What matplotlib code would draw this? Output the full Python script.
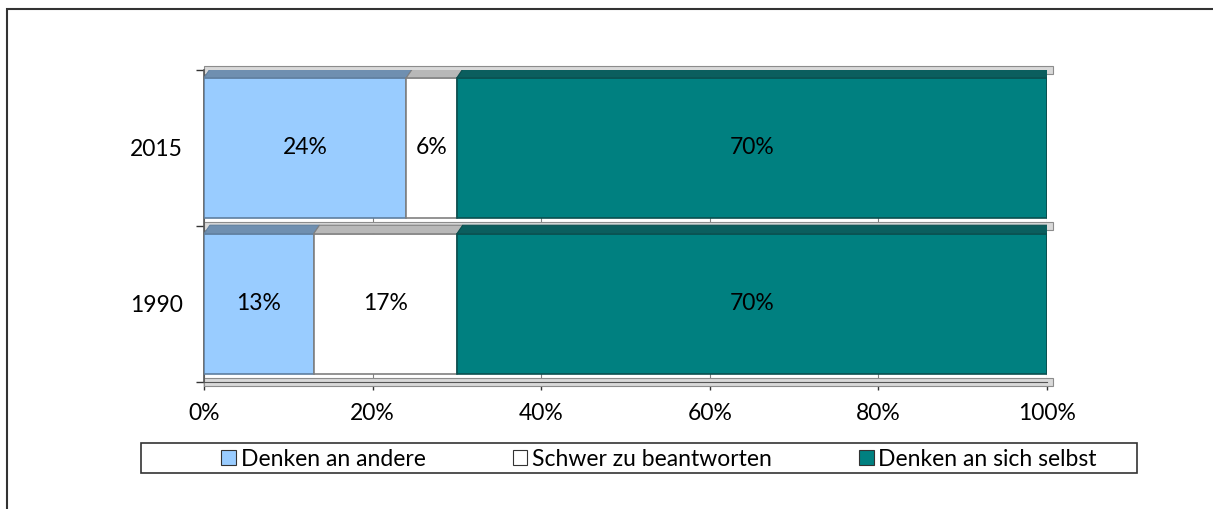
import matplotlib
matplotlib.use("Agg")
import matplotlib.pyplot as plt
from matplotlib.patches import Rectangle, Polygon, Patch

plt.rcParams['font.family'] = ['Lato', 'DejaVu Sans']

# chart data
years = ['1990', '2015']
series = ['Denken an andere', 'Schwer zu beantworten', 'Denken an sich selbst']
values = {
    'Denken an andere': [13, 24],
    'Schwer zu beantworten': [17, 6],
    'Denken an sich selbst': [70, 70],
}
x_ticks = [0, 20, 40, 60, 80, 100]
x_tick_labels = ['0%', '20%', '40%', '60%', '80%', '100%']

face_colors = ['#99ccff', '#ffffff', '#008080']
edge_colors = ['#5f7f9f', '#808080', '#0a4f4f']
top_colors = ['#6f8fb0', '#b8b8b8', '#0b5e5e']

W, H = 1213, 509
fs = 16.5
fig = plt.figure(figsize=(W / 100, H / 100), dpi=100)
ax = fig.add_axes([204 / W, 127 / H, 843 / W, 312 / H])

bar_h = 0.9
dx, dy = 0.7, 0.055  # depth of the pseudo 3d faces
left = [0, 0]
for i, name in enumerate(series):
    vals = values[name]
    ax.barh(range(len(years)), vals, left=left, height=bar_h,
            color=face_colors[i], edgecolor=edge_colors[i], linewidth=1.2, zorder=3)
    for j, v in enumerate(vals):
        x0 = left[j]
        x1 = x0 + v
        top = j + bar_h / 2
        ax.add_patch(Polygon([(x0, top), (x1, top), (x1 + dx, top + dy), (x0 + dx, top + dy)],
                             closed=True, facecolor=top_colors[i], edgecolor=edge_colors[i],
                             linewidth=0.8, zorder=3))
        ax.text(x0 + v / 2, j, f'{v}%', ha='center', va='center', fontsize=fs, color='black', zorder=4)
    left = [l + v for l, v in zip(left, vals)]

# right side faces of the last segment
for j in range(len(years)):
    top = j + bar_h / 2
    ax.add_patch(Polygon([(100, top), (100 + dx, top + dy), (100 + dx, j - bar_h / 2 + dy), (100, j - bar_h / 2)],
                         closed=True, facecolor='#0a4f4f', edgecolor='#0a4f4f', linewidth=0.8, zorder=3))

# back wall strips between the bars
for b in [-0.5, 0.5, 1.5]:
    ax.add_patch(Rectangle((0, b - 0.025), 100 + dx, 0.05, facecolor='#d9d9d9',
                           edgecolor='#8c8c8c', linewidth=0.8, zorder=2, clip_on=False))

ax.set_xlim(0, 100)
ax.set_ylim(-0.5, 1.5)
ax.set_xticks(x_ticks)
ax.set_xticklabels(x_tick_labels, fontsize=fs)
ax.set_yticks(range(len(years)))
ax.set_yticklabels(years, fontsize=fs)
ax.set_yticks([-0.5, 0.5, 1.5], minor=True)
ax.tick_params(axis='y', which='major', length=0, pad=15)
ax.tick_params(axis='y', which='minor', length=6, width=1, color='#333333')
ax.tick_params(axis='x', length=6, width=1, color='#333333', pad=9)
ax.xaxis.grid(True, color='#808080', linewidth=0.8, zorder=0)
for s in ['top', 'right']:
    ax.spines[s].set_visible(False)
ax.spines['left'].set_color('#555555')
ax.spines['bottom'].set_color('#555555')
ax.spines['left'].set_linewidth(1.2)

# legend box and legend
fig.patches.append(Rectangle((141 / W, (H - 473) / H), 996 / W, 30 / H, transform=fig.transFigure,
                             facecolor='white', edgecolor='#333333', linewidth=1.2))
handles = [Patch(facecolor=face_colors[i], edgecolor='#333333', linewidth=0.8) for i in range(len(series))]
fig.legend(handles, series, loc='center', bbox_to_anchor=(659 / W, (H - 459) / H), ncol=3,
           frameon=False, fontsize=fs, handlelength=0.65, handleheight=0.65, handletextpad=0.2,
           columnspacing=3.8)

# outer frame
fig.patches.append(Rectangle((7 / W, -0.1), 1.2, (H - 9) / H + 0.1, transform=fig.transFigure,
                             facecolor='none', edgecolor='#333333', linewidth=1.5, clip_on=False))

fig.savefig('out.png', dpi=100)
